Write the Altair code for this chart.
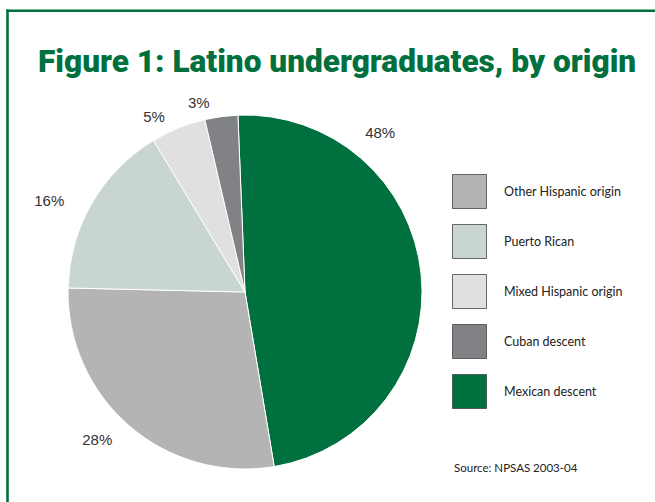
import math
import altair as alt
import pandas as pd

# ---- data -------------------------------------------------------------
PIE_ORIGINS = ["Mexican descent", "Other Hispanic origin", "Puerto Rican",
               "Mixed Hispanic origin", "Cuban descent"]
PIE_SHARES = [48, 28, 16, 5, 3]
PIE_LABELS = ["48%", "28%", "16%", "5%", "3%"]

LEGEND_ORDER = ["Other Hispanic origin", "Puerto Rican", "Mixed Hispanic origin",
                "Cuban descent", "Mexican descent"]
LEGEND_COLORS = ["#b4b4b4", "#c9d5d0", "#e0e0e0", "#808285", "#00703e"]

TITLE = "Figure 1: Latino undergraduates, by origin"
SOURCE = "Source: NPSAS 2003-04"

# ---- layout (styling) -------------------------------------------------
GREEN = "#00703e"
START_DEG = -2.3
LABEL_ANGLE_DEG = [40.3, 225.0, 295.0, 332.5, 346.3]
LABEL_RADIUS = [209, 209, 216, 197, 195]
CX, CY, R = 245, 292, 177

start_rad = math.radians(START_DEG)
theta_scale = alt.Scale(domain=[0, 100], range=[start_rad, start_rad + 2 * math.pi])

pie_df = pd.DataFrame({
    "origin": PIE_ORIGINS,
    "share": PIE_SHARES,
    "order": list(range(len(PIE_ORIGINS))),
})

label_df = pd.DataFrame({
    "label": PIE_LABELS,
    "pos": [(a - START_DEG) / 360 * 100 for a in LABEL_ANGLE_DEG],
    "r": LABEL_RADIUS,
})

arcs = alt.Chart(pie_df).mark_arc(outerRadius=R, stroke="white", strokeWidth=1).encode(
    theta=alt.Theta("share:Q", stack=True, scale=theta_scale),
    color=alt.Color(
        "origin:N",
        scale=alt.Scale(domain=LEGEND_ORDER, range=LEGEND_COLORS),
        legend=alt.Legend(
            title=None, orient="none", legendX=452, legendY=174,
            symbolType="square", symbolSize=1156,
            symbolStrokeColor="#444444", symbolStrokeWidth=0.8,
            labelFont="Lato", labelFontSize=12.5, labelColor="#222222",
            labelOffset=17, rowPadding=11, labelLimit=300,
        ),
    ),
    order=alt.Order("order:Q"),
    x=alt.value(CX), y=alt.value(CY),
)

labels = alt.Chart(label_df).mark_text(
    font="Liberation Sans", fontSize=15, color="#333333",
    align="center", baseline="middle",
).encode(
    theta=alt.Theta("pos:Q", stack=False, scale=theta_scale),
    radius=alt.Radius("r:Q", scale=None),
    text="label:N",
    x=alt.value(CX), y=alt.value(CY),
)

title = alt.Chart(pd.DataFrame({"t": [TITLE]})).mark_text(
    align="left", baseline="alphabetic",
    font="Roboto", fontWeight=900, fontSize=31.6, color=GREEN,
).encode(text="t:N", x=alt.value(38), y=alt.value(72))

source = alt.Chart(pd.DataFrame({"t": [SOURCE]})).mark_text(
    align="left", baseline="alphabetic", font="Lato", fontSize=11.5, color="#222222",
).encode(text="t:N", x=alt.value(454), y=alt.value(472))

frame_left = alt.Chart(pd.DataFrame({"a": [0]})).mark_rule(
    color=GREEN, strokeWidth=2.6
).encode(x=alt.value(7.5), y=alt.value(9.4), y2=alt.value(502))

frame_top = alt.Chart(pd.DataFrame({"a": [0]})).mark_rule(
    color=GREEN, strokeWidth=2.6
).encode(x=alt.value(6.2), x2=alt.value(655), y=alt.value(10.7))

chart = alt.layer(arcs, labels, title, source, frame_left, frame_top).properties(
    width=655, height=502, padding=0, autosize="none", background="white",
).configure_view(strokeWidth=0)

chart.save("out.html", embed_options={"renderer": "svg", "actions": False})
